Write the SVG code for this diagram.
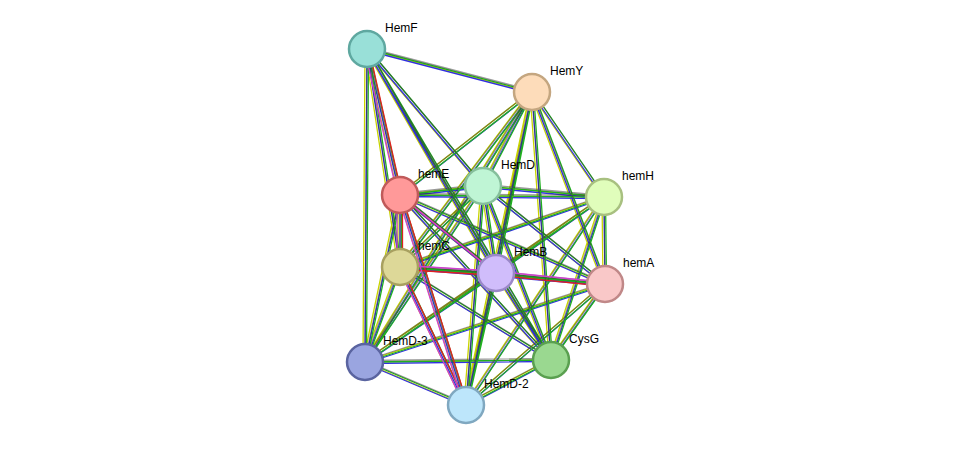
<svg xmlns="http://www.w3.org/2000/svg" xmlns:xlink="http://www.w3.org/1999/xlink" width="975" height="451" viewBox="0 0 975 451">
<style>
.n{stroke-width:2.5}
.t{font-family:"Liberation Sans",Arial,sans-serif;font-size:12px;fill:#000}
.e{fill:none;stroke-width:1.3}
</style>
<defs>
<path id="all" d="M367,49L532,92M367,49L400,195M367,49L483,186M367,49L400,267M367,49L496,273M367,49L365,362M367,49L551,360M532,92L400,195M532,92L483,186M532,92L604,197M532,92L400,267M532,92L496,273M532,92L605,284M532,92L365,362M532,92L551,360M532,92L466,405M400,195L483,186M400,195L604,197M400,195L400,267M400,195L496,273M400,195L605,284M400,195L365,362M400,195L551,360M400,195L466,405M483,186L604,197M483,186L400,267M483,186L496,273M483,186L605,284M483,186L365,362M483,186L551,360M483,186L466,405M604,197L400,267M604,197L496,273M604,197L605,284M604,197L365,362M604,197L551,360M604,197L466,405M400,267L496,273M400,267L605,284M400,267L365,362M400,267L551,360M400,267L466,405M496,273L605,284M496,273L365,362M496,273L551,360M496,273L466,405M605,284L365,362M605,284L551,360M605,284L466,405M365,362L551,360M365,362L466,405M551,360L466,405"/>
<path id="red" d="M367,49L400,195M400,195L400,267M400,195L466,405M400,267L466,405M400,267L496,273M496,273L605,284M400,195L496,273"/>
</defs>
<g id="connectors" class="e">
<use href="#all" stroke="#c8d400" transform="translate(-2,0)"/>
<use href="#all" stroke="#3030e0" transform="translate(0,1.5)"/>
<use href="#all" stroke="#20b020" transform="translate(1.5,0)"/>
<use href="#all" stroke="#333" stroke-opacity="0.5" transform="translate(0,-1.5)"/>
<use href="#red" stroke="#e02020" transform="translate(2.5,2.5)"/>
<use href="#red" stroke="#d040d0" transform="translate(-3,-2)"/>
</g>
<g id="HemF"><circle class="n" cx="367" cy="49" r="18" fill="#99e0d8" stroke="#5fa8a0"/><text class="t" x="385" y="32">HemF</text></g>
<g id="HemY"><circle class="n" cx="532" cy="92" r="18" fill="#fddcba" stroke="#c4a680"/><text class="t" x="550" y="75">HemY</text></g>
<g id="hemE"><circle class="n" cx="400" cy="195" r="18" fill="#f99" stroke="#c05a5a"/><text class="t" x="418" y="178">hemE</text></g>
<g id="HemD"><circle class="n" cx="483" cy="186" r="18" fill="#bff5d5" stroke="#86bf9c"/><text class="t" x="501" y="169">HemD</text></g>
<g id="hemH"><circle class="n" cx="604" cy="197" r="18" fill="#e0fdbb" stroke="#a8c080"/><text class="t" x="622" y="180">hemH</text></g>
<g id="hemC"><circle class="n" cx="400" cy="267" r="18" fill="#ddd898" stroke="#a8a060"/><text class="t" x="418" y="250">hemC</text></g>
<g id="HemB"><circle class="n" cx="496" cy="273" r="18" fill="#d0bdfb" stroke="#9a88c8"/><text class="t" x="514" y="256">HemB</text></g>
<g id="hemA"><circle class="n" cx="605" cy="284" r="18" fill="#f9c8c8" stroke="#c08888"/><text class="t" x="623" y="267">hemA</text></g>
<g id="HemD-3"><circle class="n" cx="365" cy="362" r="18" fill="#9aa5e0" stroke="#5a64a0"/><text class="t" x="383" y="345">HemD-3</text></g>
<g id="CysG"><circle class="n" cx="551" cy="360" r="18" fill="#9ad890" stroke="#5aa050"/><text class="t" x="569" y="343">CysG</text></g>
<g id="HemD-2"><circle class="n" cx="466" cy="405" r="18" fill="#bde6fb" stroke="#80a8c0"/><text class="t" x="484" y="388">HemD-2</text></g>
</svg>
